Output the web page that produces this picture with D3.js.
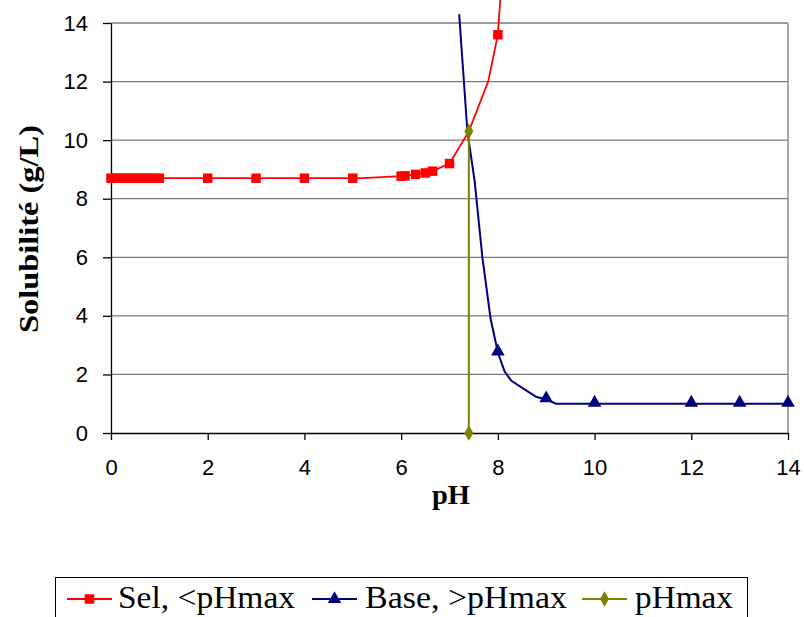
<!DOCTYPE html>
<html>
<head>
<meta charset="utf-8">
<script src="https://cdn.jsdelivr.net/npm/d3@7/dist/d3.min.js"></script>
<style>
  html, body { margin: 0; padding: 0; background: #fff; }
  svg { display: block; }
</style>
</head>
<body>
<script>
// ---- Data ----
const xTicks = [0, 2, 4, 6, 8, 10, 12, 14];
const yTicks = [0, 2, 4, 6, 8, 10, 12, 14];

// Sel, <pHmax (red squares)
const selPH     = [0, 0.1, 0.2, 0.3, 0.4, 0.5, 0.6, 0.7, 0.8, 0.9, 1.0, 2, 3, 4, 5, 5.2, 6.0, 6.08, 6.3, 6.5, 6.65, 7.0, 7.4, 7.8, 7.95, 8.0, 8.05];
const selS      = [8.7, 8.7, 8.7, 8.7, 8.7, 8.7, 8.7, 8.7, 8.7, 8.7, 8.7, 8.7, 8.7, 8.7, 8.7, 8.7, 8.77, 8.78, 8.83, 8.88, 8.94, 9.2, 10.3, 12.0, 13.2, 13.6, 14.8];
const selMarker = [1, 1, 1, 1, 1, 1, 1, 1, 1, 1, 1, 1, 1, 1, 1, 0, 1, 1, 1, 1, 1, 1, 0, 0, 0, 1, 0];

// Base, >pHmax (navy triangles)
const basePH     = [7.2, 7.37, 7.52, 7.68, 7.85, 8.0, 8.14, 8.28, 8.6, 8.8, 9.0, 9.2, 10, 12, 13, 14];
const baseS      = [14.3, 10.3, 8.6, 6.0, 3.9, 2.75, 2.1, 1.78, 1.44, 1.23, 1.15, 1.0, 1.0, 1.0, 1.0, 1.0];
const baseMarker = [0, 0, 0, 0, 0, 1, 0, 0, 0, 0, 1, 0, 1, 1, 1, 1];

// pHmax (olive diamonds)
const pHmaxPH = [7.4, 7.4];
const pHmaxS  = [10.3, 0];

const legendLabels = ["Sel, <pHmax", "Base, >pHmax", "pHmax"];

// ---- Layout ----
const W = 804, H = 617;
const plot = { left: 111, right: 788, top: 23, bottom: 433 };

const svg = d3.select("body").append("svg").attr("width", W).attr("height", H);

const x = d3.scaleLinear().domain([0, 14]).range([plot.left, plot.right]);
const y = d3.scaleLinear().domain([0, 14]).range([plot.bottom, plot.top]);

// Gridlines
svg.append("g").selectAll("line").data(yTicks.filter(d => d > 0)).join("line")
  .attr("x1", plot.left).attr("x2", plot.right)
  .attr("y1", d => y(d)).attr("y2", d => y(d))
  .attr("stroke", "#7a7a7a").attr("stroke-width", 1.3);

// Right border
svg.append("line")
  .attr("x1", plot.right).attr("x2", plot.right)
  .attr("y1", plot.top).attr("y2", plot.bottom)
  .attr("stroke", "#8a8a8a").attr("stroke-width", 1.5);

// Axes
const xAxis = d3.axisBottom(x).tickValues(xTicks).tickSize(7).tickPadding(19).tickSizeOuter(0);
const yAxis = d3.axisLeft(y).tickValues(yTicks).tickSize(8).tickPadding(15).tickSizeOuter(0);

const gx = svg.append("g").attr("transform", `translate(0,${plot.bottom})`).call(xAxis);
const gy = svg.append("g").attr("transform", `translate(${plot.left},0)`).call(yAxis);
[gx, gy].forEach(g => {
  g.select(".domain").attr("stroke", "#000").attr("stroke-width", 1.3);
  g.selectAll(".tick line").attr("stroke", "#000").attr("stroke-width", 1.3);
  g.selectAll(".tick text")
    .attr("fill", "#000")
    .style("font-family", "'Liberation Sans', Arial, sans-serif")
    .style("font-size", "22px");
});

// Axis titles
svg.append("text")
  .attr("x", 451).attr("y", 504)
  .attr("text-anchor", "middle")
  .attr("textLength", 38).attr("lengthAdjust", "spacingAndGlyphs")
  .style("font-family", "'Liberation Serif', 'Times New Roman', serif")
  .style("font-weight", "bold").style("font-size", "28px")
  .text("pH");

svg.append("text")
  .attr("transform", "translate(38,229) rotate(-90)")
  .attr("text-anchor", "middle")
  .attr("textLength", 208).attr("lengthAdjust", "spacingAndGlyphs")
  .style("font-family", "'Liberation Serif', 'Times New Roman', serif")
  .style("font-weight", "bold").style("font-size", "28px")
  .text("Solubilité (g/L)");

// ---- Series ----
const colSel = "#ff0000", colBase = "#000080", colMax = "#808000";
const line = d3.line().x(d => x(d[0])).y(d => y(d[1]));

const selData = selPH.map((p, i) => [p, selS[i], selMarker[i]]);
const baseData = basePH.map((p, i) => [p, baseS[i], baseMarker[i]]);
const maxData = pHmaxPH.map((p, i) => [p, pHmaxS[i], 1]);

const sq = d3.symbol().type(d3.symbolSquare).size(90);
const tri = d3.symbol().type(d3.symbolTriangle).size(80);
const dia = d3.symbol().type(d3.symbolDiamond).size(70);

svg.append("path").datum(baseData).attr("d", line)
  .attr("fill", "none").attr("stroke", colBase).attr("stroke-width", 2);
svg.append("path").datum(selData).attr("d", line)
  .attr("fill", "none").attr("stroke", colSel).attr("stroke-width", 1.8);
svg.append("path").datum(maxData).attr("d", line)
  .attr("fill", "none").attr("stroke", colMax).attr("stroke-width", 2);

svg.append("g").selectAll("path").data(selData.filter(d => d[2])).join("path")
  .attr("d", sq).attr("fill", colSel)
  .attr("transform", d => `translate(${x(d[0])},${y(d[1])})`);
svg.append("g").selectAll("path").data(baseData.filter(d => d[2])).join("path")
  .attr("d", tri).attr("fill", colBase)
  .attr("transform", d => `translate(${x(d[0])},${y(d[1]) - 1})`);
svg.append("g").selectAll("path").data(maxData).join("path")
  .attr("d", dia).attr("fill", colMax)
  .attr("transform", d => `translate(${x(d[0])},${y(d[1])})`);

// ---- Legend ----
const legend = svg.append("g");
legend.append("rect")
  .attr("x", 55.5).attr("y", 577.5).attr("width", 692).attr("height", 60)
  .attr("fill", "#fff").attr("stroke", "#000").attr("stroke-width", 1);

const legItems = [
  { label: legendLabels[0], color: colSel, sym: sq, x0: 67, tx: 118, tl: 177 },
  { label: legendLabels[1], color: colBase, sym: tri, x0: 312, tx: 365, tl: 202 },
  { label: legendLabels[2], color: colMax, sym: dia, x0: 582, tx: 635, tl: 98 }
];
const legY = 599;
legItems.forEach(it => {
  legend.append("line")
    .attr("x1", it.x0).attr("x2", it.x0 + 45)
    .attr("y1", legY).attr("y2", legY)
    .attr("stroke", it.color).attr("stroke-width", 2);
  legend.append("path").attr("d", it.sym).attr("fill", it.color)
    .attr("transform", `translate(${it.x0 + 22.5},${legY})`);
  legend.append("text")
    .attr("x", it.tx).attr("y", 608)
    .attr("textLength", it.tl).attr("lengthAdjust", "spacingAndGlyphs")
    .style("font-family", "'Liberation Serif', 'Times New Roman', serif")
    .style("font-size", "31px")
    .text(it.label);
});
</script>
</body>
</html>
